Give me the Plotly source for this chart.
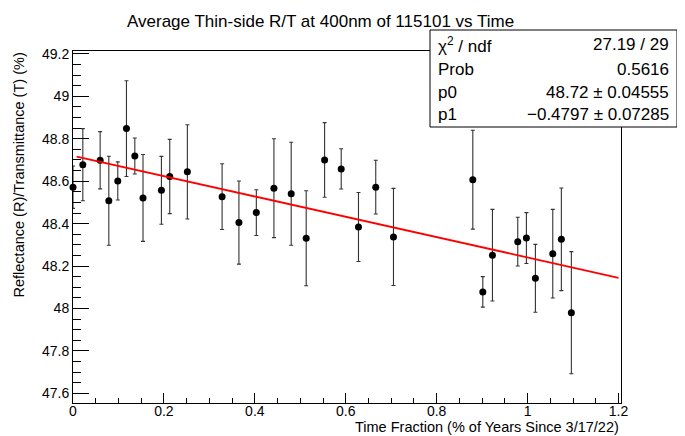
import plotly.graph_objects as go

# ---- data ----
time_frac = [0.000, 0.0216, 0.0597, 0.0788, 0.0985, 0.1176, 0.136, 0.154, 0.1945, 0.2128,
             0.2516, 0.328, 0.365, 0.4033, 0.442, 0.480, 0.513, 0.5535, 0.590, 0.628,
             0.666, 0.705, 0.8795, 0.9015, 0.9227, 0.9784, 0.9974, 1.0172, 1.0554, 1.0743,
             1.0963]
rt_value = [48.572, 48.678, 48.699, 48.508, 48.601, 48.848, 48.719, 48.521, 48.557, 48.622,
            48.644, 48.527, 48.405, 48.452, 48.567, 48.541, 48.331, 48.700, 48.658, 48.384,
            48.572, 48.337, 48.607, 48.078, 48.251, 48.315, 48.332, 48.142, 48.258, 48.326,
            47.980]
rt_error = [0.10, 0.17, 0.135, 0.21, 0.09, 0.226, 0.085, 0.205, 0.16, 0.175,
            0.222, 0.155, 0.196, 0.108, 0.233, 0.243, 0.224, 0.176, 0.095, 0.163,
            0.127, 0.229, 0.233, 0.072, 0.216, 0.115, 0.12, 0.16, 0.209, 0.242,
            0.288]

# fit parameters (pol1)
p0 = 48.72
p1 = -0.4797
fit_x = [0.008, 1.2]
fit_y = [p0 + p1 * v for v in fit_x]

stats_labels = ["χ<sup>2</sup> / ndf", "Prob", "p0", "p1"]
stats_values = ["27.19 / 29", "0.5616", "48.72 ± 0.04555", "−0.4797 ± 0.07285"]

title = "Average Thin-side R/T at 400nm of 115101 vs Time"
x_title = "Time Fraction (% of Years Since 3/17/22)"
y_title = "Reflectance (R)/Transmittance (T) (%)"

# ---- layout geometry (page body adds an 8px offset) ----
OFF = 8
W, H = 685 - OFF, 436 - OFF
ML, MR, MT, MB = 73 - OFF, 64, 51 - OFF, 33
PW, PH = W - ML - MR, H - MT - MB
FONT = "Liberation Sans, Arial, Helvetica, sans-serif"


def px_x(px):
    # px given in screen pixels
    return (px - OFF - ML) / PW


def px_y(py):
    return (H - MB - (py - OFF)) / PH


fig = go.Figure()

fig.add_trace(go.Scatter(
    x=time_frac, y=rt_value, mode="markers",
    marker=dict(color="black", size=7),
    error_y=dict(type="data", array=rt_error, visible=True,
                 color="#333333", thickness=1.1, width=2),
    showlegend=False, cliponaxis=False,
))

fig.add_trace(go.Scatter(
    x=fit_x, y=fit_y, mode="lines",
    line=dict(color="#ff0000", width=1.8),
    showlegend=False,
))

axis_common = dict(
    showgrid=False, zeroline=False, showline=True, linecolor="black",
    linewidth=1, mirror=True, ticks="inside", tickcolor="black",
    tickfont=dict(family=FONT, size=14, color="black"),
)

fig.update_xaxes(
    range=[0, 1.2055], dtick=0.2, tick0=0, ticklen=10, tickwidth=1,
    ticklabelstandoff=-5,
    minor=dict(dtick=0.05, tick0=0, ticklen=5, ticks="inside", tickcolor="black"),
    **axis_common,
)
fig.update_yaxes(
    range=[47.554, 49.214], dtick=0.2, tick0=47.6, ticklen=16, tickwidth=1,
    minor=dict(dtick=0.05, tick0=47.6, ticklen=8, ticks="inside", tickcolor="black"),
    **axis_common,
)

annotations = [
    dict(text=title, x=px_x(320), y=px_y(21), xref="paper", yref="paper",
         xanchor="center", yanchor="middle", showarrow=False,
         font=dict(family=FONT, size=17, color="black")),
    dict(text=x_title, x=1.0, y=px_y(427), xref="paper", yref="paper",
         xanchor="right", yanchor="middle", showarrow=False,
         font=dict(family=FONT, size=14.5, color="black")),
    dict(text=y_title, x=px_x(18), y=1.0, xref="paper", yref="paper",
         xanchor="center", yanchor="top", textangle=-90, showarrow=False,
         font=dict(family=FONT, size=14.5, color="black")),
]

row_y = [45, 69, 92, 115]
for lab, val, ry in zip(stats_labels, stats_values, row_y):
    annotations.append(dict(text=lab, x=px_x(436), y=px_y(ry), xref="paper", yref="paper",
                            xanchor="left", yanchor="middle", showarrow=False,
                            font=dict(family=FONT, size=17, color="black")))
    annotations.append(dict(text=val, x=px_x(671), y=px_y(ry), xref="paper", yref="paper",
                            xanchor="right", yanchor="middle", showarrow=False,
                            font=dict(family=FONT, size=17, color="black")))

shapes = [
    dict(type="rect", xref="paper", yref="paper",
         x0=px_x(430), x1=px_x(677), y0=px_y(127), y1=px_y(30),
         line=dict(color="black", width=1), fillcolor="white", layer="above"),
]

fig.update_layout(
    width=W, height=H,
    margin=dict(l=ML, r=MR, t=MT, b=MB),
    paper_bgcolor="white", plot_bgcolor="white",
    annotations=annotations, shapes=shapes,
    font=dict(family=FONT, color="black"),
)

fig.write_html("out.html")
